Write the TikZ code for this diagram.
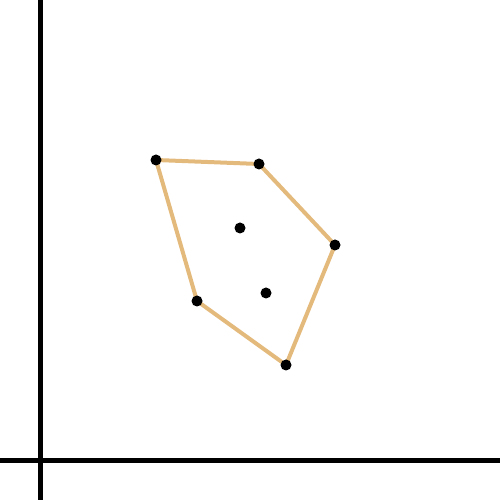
\documentclass[tikz,border=0pt]{standalone}
\usepackage{xcolor}
\definecolor{HullTan}{RGB}{228,186,124}

\begin{document}
\begin{tikzpicture}[x=0.02cm,y=0.02cm,
      axis/.style={draw=black,line width=5*0.02cm},
      hull/.style={draw=HullTan,line width=4*0.02cm,line join=round},
      pt/.style={circle,fill=black,inner sep=0pt,minimum size=11*0.02cm}]
    \useasboundingbox (0,0) rectangle (500,500);
    % axes
    \coordinate (ytop) at (40.5,500);
    \coordinate (ybot) at (40.5,0);
    \coordinate (xleft) at (0,39);
    \coordinate (xright) at (500,39);
    \draw[axis] (ybot) -- (ytop);
    \draw[axis] (xleft) -- (xright);
    % point set
    \coordinate (p1) at (156,340);
    \coordinate (p2) at (259,336);
    \coordinate (p3) at (335,255);
    \coordinate (p4) at (286,135);
    \coordinate (p5) at (197,199);
    \coordinate (q1) at (240,272);
    \coordinate (q2) at (266,207);
    % hull
    \draw[hull] (p1) -- (p2) -- (p3) -- (p4) -- (p5) -- cycle;
    \foreach \p in {p1,p2,p3,p4,p5,q1,q2}
      \node[pt] (dot-\p) at (\p) {};
  \end{tikzpicture}
\end{document}
